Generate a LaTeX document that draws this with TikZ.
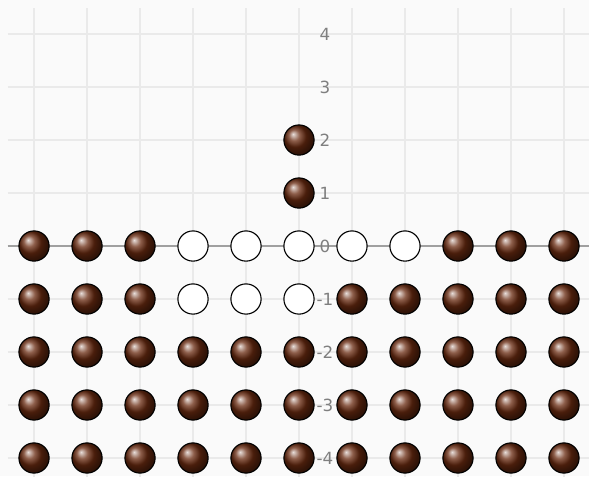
\documentclass[tikz,border=0pt]{standalone}
\usepackage{fontspec}
\setsansfont{DejaVu Sans}
\usetikzlibrary{backgrounds}
\definecolor{bgcol}{HTML}{FAFAFA}
\definecolor{gridcol}{HTML}{EAEAEA}
\definecolor{axiscol}{HTML}{A0A0A0}
\definecolor{labelcol}{HTML}{7F7F7F}
\definecolor{brownball}{RGB}{105,42,16}
\tikzset{every picture/.style={/utils/exec={\sffamily}}}
\tikzset{ball/.style={circle,draw=black,line width=0.6pt,inner sep=0pt,minimum size=0.57cm,shading=ball,ball color=brownball}}
\tikzset{hole/.style={circle,draw=black,line width=0.6pt,fill=white,inner sep=0pt,minimum size=0.57cm}}
\tikzset{ticklabel/.style={text=labelcol,font=\sffamily\fontsize{9}{9}\selectfont,inner sep=0pt}}

\begin{document}
\begin{tikzpicture}
    \useasboundingbox [fill=bgcol] (-5.642,-4.340) rectangle (5.472,4.642);
    \draw [gridcol,line width=0.6pt] (-5.5,-4.5) grid (5.5,4.5);
    \coordinate (xl) at (-5.5,0);
    \coordinate (xr) at (5.5,0);
    \draw [axiscol,line width=0.8pt] (xl) -- (xr);
    \foreach \y in {-4,...,4}
        \node [ticklabel] (t\y) at (0.49,\y) {\y};
    % full rows
    \foreach \x in {-5,...,5}
        \foreach \y in {-4,-3,-2}
            \node [ball] (b\x\y) at (\x,\y) {};
    % row -1
    \foreach \x in {-5,-4,-3,1,2,3,4,5}
        \node [ball] (b\x-1) at (\x,-1) {};
    \foreach \x in {-2,-1,0}
        \node [hole] (h\x-1) at (\x,-1) {};
    % row 0
    \foreach \x in {-5,-4,-3,3,4,5}
        \node [ball] (b\x0) at (\x,0) {};
    \foreach \x in {-2,...,2}
        \node [hole] (h\x0) at (\x,0) {};
    % above the line
    \node [ball] (b01) at (0,1) {};
    \node [ball] (b02) at (0,2) {};
\end{tikzpicture}
\end{document}
